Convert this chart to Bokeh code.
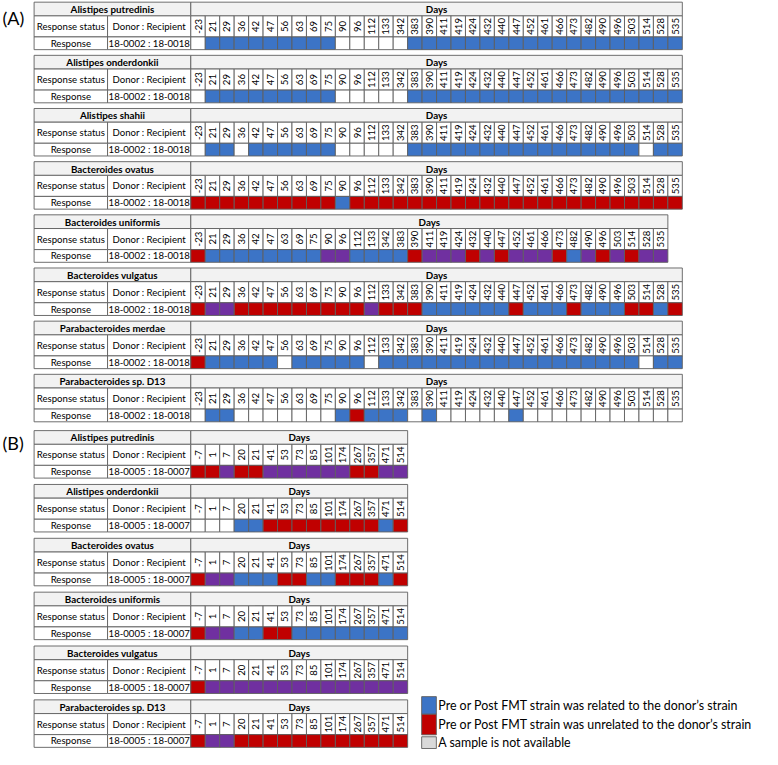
import math
from bokeh.plotting import figure
from bokeh.models import Range1d, ColumnDataSource
from bokeh.core.properties import value
from bokeh.embed import file_html
from bokeh.resources import INLINE

# ---------------- data ----------------
days_a = [-23, 21, 29, 36, 42, 47, 56, 63, 69, 75, 90, 96, 112, 133, 342, 383, 390,
          411, 419, 424, 432, 440, 447, 452, 461, 466, 473, 482, 490, 496, 503, 514, 528, 535]
days_a_uniformis = [-23, 21, 29, 36, 42, 47, 63, 69, 75, 90, 96, 112, 133, 342, 383, 390,
                    411, 419, 424, 432, 440, 447, 452, 461, 466, 473, 482, 490, 496, 503, 514, 528, 535]
days_b = [-7, 1, 7, 20, 21, 41, 53, 73, 85, 101, 174, 267, 357, 471, 514]

# B = related (blue), R = unrelated (red), P = purple, W = empty
species_a = ["Alistipes putredinis", "Alistipes onderdonkii", "Alistipes shahii",
             "Bacteroides ovatus", "Bacteroides uniformis", "Bacteroides vulgatus",
             "Parabacteroides merdae", "Parabacteroides sp. D13"]
a_putredinis = "WBBBBBBBBBWWWWWBBBBBBBBBBBBBBBBBBB"
a_onderdonkii = "WBBBBBBBBBWWWWWBBBBBBBBBBBBBBBBBBB"
a_shahii = "WBBWBBBBBBWWWWWBBBBBBBBBBBBBBBBWBB"
a_ovatus = "RRRRRRRRRRBRRRRRRRRRRRRRRRRRRRRRRR"
a_uniformis = "RBBBBBBBBPPBBBBRPPPRPRPPPRBPRPRPP"
a_vulgatus = "RPPRRRRRRRRRPRRRBBBBBBRBBBRBBBRRBR"
a_merdae = "RBBBBBWBBBBBWBBBBBBBBBBBBBBBBBBWBB"
a_d13 = "WBBWWWWWWWBRBBBWBWWWWWBWWWWWWWWWWW"
pair_a = "18-0002 : 18-0018"

species_b = ["Alistipes putredinis", "Alistipes onderdonkii", "Bacteroides ovatus",
             "Bacteroides uniformis", "Bacteroides vulgatus", "Parabacteroides sp. D13"]
b_putredinis = "RRPRRPPPPPPRRPP"
b_onderdonkii = "WWWBBRRRRRRRRBR"
b_ovatus = "RPPBBBRRBBRRRBR"
b_uniformis = "RPPBBRRBBBBBBBB"
b_vulgatus = "RPPPPPPPPPPPPPP"
b_d13 = "RPPRRRRRRRRRRRR"
pair_b = "18-0005 : 18-0007"

legend_labels = ["Pre or Post FMT strain was related to the donor\u2019s strain",
                 "Pre or Post FMT strain was unrelated to the donor\u2019s strain",
                 "A sample is not available"]

# ---------------- style ----------------
COLORS = {"B": "#3c74c6", "R": "#c00000", "P": "#7030a0", "W": "#ffffff", "G": "#d9d9d9"}
HDR_FILL = "#f2f2f2"
LINE = "#5f5f5f"
FONT = "Lato"

W_REF, H_REF = 778, 765
X0, X1, X2, CW = 34.3, 109.3, 194.3, 14.76
HDR, R2, R3 = 14.0, 21.5, 13.0


def Y(v):
    return H_REF - v


quads = dict(left=[], right=[], top=[], bottom=[], fill=[])
txt_plain = dict(x=[], y=[], t=[])
txt_bold = dict(x=[], y=[], t=[])
txt_rot = dict(x=[], y=[], t=[])


def add_quad(l, r, t, b, fill):
    quads["left"].append(l)
    quads["right"].append(r)
    quads["top"].append(Y(t))
    quads["bottom"].append(Y(b))
    quads["fill"].append(fill)


def add_txt(d, x, y, t):
    d["x"].append(x)
    d["y"].append(Y(y))
    d["t"].append(t)


def table(top, species, days, codes, pair):
    hb = top + HDR
    r2b = hb + R2
    r3b = r2b + R3
    n = len(days)
    xr = X2 + n * CW
    add_quad(X0, X2, top, hb, HDR_FILL)
    add_quad(X2, xr, top, hb, HDR_FILL)
    add_txt(txt_bold, (X0 + X2) / 2, (top + hb) / 2, species)
    add_txt(txt_bold, (X2 + xr) / 2, (top + hb) / 2, "Days")
    add_quad(X0, X1, hb, r2b, "#ffffff")
    add_quad(X1, X2, hb, r2b, "#ffffff")
    add_txt(txt_plain, (X0 + X1) / 2, (hb + r2b) / 2, "Response status")
    add_txt(txt_plain, (X1 + X2) / 2, (hb + r2b) / 2, "Donor : Recipient")
    add_quad(X0, X1, r2b, r3b, "#ffffff")
    add_quad(X1, X2, r2b, r3b, "#ffffff")
    add_txt(txt_plain, (X0 + X1) / 2, (r2b + r3b) / 2, "Response")
    add_txt(txt_plain, (X1 + X2) / 2, (r2b + r3b) / 2, pair)
    for i, (d, c) in enumerate(zip(days, codes)):
        l = X2 + i * CW
        add_quad(l, l + CW, hb, r2b, "#ffffff")
        add_txt(txt_rot, l + CW / 2, (hb + r2b) / 2, str(d))
        add_quad(l, l + CW, r2b, r3b, COLORS[c])


codes_a = [a_putredinis, a_onderdonkii, a_shahii, a_ovatus, a_uniformis, a_vulgatus, a_merdae, a_d13]
for k, (sp, cd) in enumerate(zip(species_a, codes_a)):
    dd = days_a_uniformis if sp == "Bacteroides uniformis" else days_a
    table(1.7 + 54.3 * k, sp, dd, cd, pair_a)

codes_b = [b_putredinis, b_onderdonkii, b_ovatus, b_uniformis, b_vulgatus, b_d13]
for k, (sp, cd) in enumerate(zip(species_b, codes_b)):
    table(439.3 + 55.0 * k, sp, days_b, cd, pair_b)

# legend
leg_codes = ["B", "R", "G"]
leg_boxes = [(711, 729), (729, 750), (752, 764)]
leg_x = 430
for c, (t, b) in zip(leg_codes, leg_boxes):
    add_quad(leg_x, leg_x + 15, t, b, COLORS[c])

p = figure(width=762, height=749, x_range=Range1d(0, W_REF), y_range=Range1d(0, H_REF),
           output_backend="svg", toolbar_location=None, min_border=0)
p.axis.visible = False
p.grid.visible = False
p.outline_line_color = None
p.background_fill_color = "white"

p.quad(left="left", right="right", top="top", bottom="bottom", fill_color="fill",
       line_color=LINE, line_width=0.9, source=ColumnDataSource(quads))

p.text(x="x", y="y", text="t", source=ColumnDataSource(txt_plain), text_font=value(FONT),
       text_font_size="9.6px", text_align="center", text_baseline="middle", text_color="#000000")
p.text(x="x", y="y", text="t", source=ColumnDataSource(txt_bold), text_font=value(FONT),
       text_font_style="bold", text_font_size="9.8px", text_align="center",
       text_baseline="middle", text_color="#000000")
p.text(x="x", y="y", text="t", source=ColumnDataSource(txt_rot), text_font=value(FONT),
       text_font_size="9.6px", text_align="center", text_baseline="middle",
       angle=math.pi / 2, text_color="#000000")

leg = dict(x=[leg_x + 17] * 3, y=[Y((t + b) / 2) for t, b in leg_boxes], t=legend_labels)
p.text(x="x", y="y", text="t", source=ColumnDataSource(leg), text_font=value(FONT),
       text_font_size="12.4px", text_align="left", text_baseline="middle", text_color="#000000")

panel = dict(x=[2, 2], y=[Y(18), Y(452)], t=["(A)", "(B)"])
p.text(x="x", y="y", text="t", source=ColumnDataSource(panel), text_font=value(FONT),
       text_font_size="18px", text_align="left", text_baseline="middle", text_color="#000000")

open("out.html", "w").write(file_html(p, INLINE))
